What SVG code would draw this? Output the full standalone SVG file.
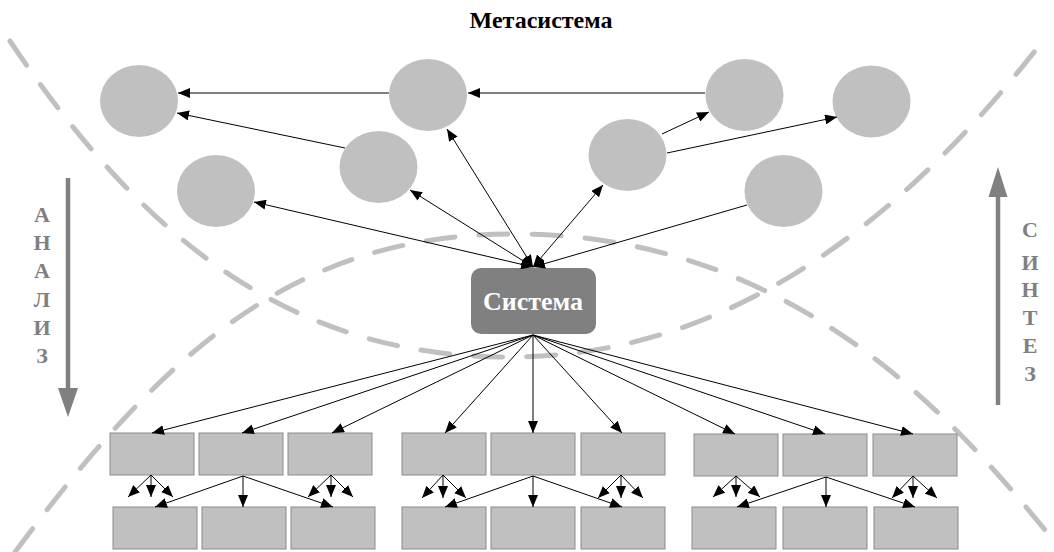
<svg xmlns="http://www.w3.org/2000/svg" width="1054" height="552" viewBox="0 0 1054 552">
  <defs>
    <marker id="ah" viewBox="0 0 12 10" markerWidth="12" markerHeight="10" markerUnits="userSpaceOnUse" refX="12" refY="5" orient="auto-start-reverse">
      <path d="M0,0 L12,5 L0,10 z" fill="#000"/>
    </marker>
    <style>
      .dash { fill: none; stroke: #c0c0c0; stroke-width: 5; stroke-dasharray: 29 24; stroke-linecap: round; }
      .ell { fill: #c0c0c0; }
      .box { fill: #c0c0c0; stroke: #8c8c8c; stroke-width: 1; }
      .ln { stroke: #000; stroke-width: 1; fill: none; }
      .one { marker-end: url(#ah); }
      .two { marker-start: url(#ah); marker-end: url(#ah); }
      .title { font-family: "Liberation Serif", "Times New Roman", serif; font-weight: bold; font-size: 24px; fill: #000; }
      .sys { font-family: "Liberation Serif", "Times New Roman", serif; font-weight: bold; font-size: 26px; fill: #fff; }
      .side { font-family: "Liberation Serif", "Times New Roman", serif; font-weight: bold; font-size: 22px; fill: #808080; text-anchor: middle; }
      .shaft { stroke: #808080; stroke-width: 4.5; }
    </style>
  </defs>

  <!-- dashed boundary curves -->
  <g id="boundaries">
    <path class="dash" d="M10,41 C150,250 300,357 510,357 C730,357 905,220 1045,38"/>
    <path class="dash" d="M15,552 C165,350 295,234 515,234 C815,234 980,452 1060,548"/>
  </g>

  <text class="title" x="541" y="28" text-anchor="middle">Метасистема</text>

  <!-- analysis arrow -->
  <g id="analysis">
    <line class="shaft" x1="68" y1="178" x2="68" y2="390"/>
    <path d="M58,388 L78,388 L68,417 z" fill="#808080"/>
    <text class="side" x="42" y="222">А</text>
    <text class="side" x="42" y="250">Н</text>
    <text class="side" x="42" y="278">А</text>
    <text class="side" x="42" y="307">Л</text>
    <text class="side" x="42" y="335">И</text>
    <text class="side" x="42" y="363">З</text>
  </g>

  <!-- synthesis arrow -->
  <g id="synthesis">
    <line class="shaft" x1="998" y1="405" x2="998" y2="195"/>
    <path d="M988.5,197 L1007.5,197 L998,167 z" fill="#808080"/>
    <text class="side" x="1030" y="237">С</text>
    <text class="side" x="1030" y="270">И</text>
    <text class="side" x="1030" y="297">Н</text>
    <text class="side" x="1030" y="325">Т</text>
    <text class="side" x="1030" y="353">Е</text>
    <text class="side" x="1030" y="381">З</text>
  </g>

  <!-- metasystem elements -->
  <g id="e1"><ellipse class="ell" cx="139" cy="101" rx="39" ry="36"/></g>
  <g id="e2"><ellipse class="ell" cx="428" cy="95" rx="39" ry="36"/></g>
  <g id="e3"><ellipse class="ell" cx="378.5" cy="167" rx="39" ry="36"/></g>
  <g id="e4"><ellipse class="ell" cx="216" cy="191" rx="39" ry="36"/></g>
  <g id="e5"><ellipse class="ell" cx="744.5" cy="95" rx="39" ry="36"/></g>
  <g id="e6"><ellipse class="ell" cx="871.5" cy="101.5" rx="39" ry="36"/></g>
  <g id="e7"><ellipse class="ell" cx="627.5" cy="155" rx="39" ry="36"/></g>
  <g id="e8"><ellipse class="ell" cx="783.5" cy="191" rx="39" ry="36"/></g>

  <!-- system -->
  <g id="system">
    <rect x="471" y="268" width="125" height="66" rx="10" ry="10" fill="#808080"/>
    <text class="sys" x="533" y="310" text-anchor="middle">Система</text>
  </g>

  <!-- subsystem blocks -->
  <g id="blocks">
    <g id="b11"><rect class="box" x="110" y="433" width="84" height="42"/></g>
    <g id="b12"><rect class="box" x="199" y="433" width="84" height="42"/></g>
    <g id="b13"><rect class="box" x="288" y="433" width="84" height="42"/></g>
    <g id="b14"><rect class="box" x="402" y="433" width="84" height="42"/></g>
    <g id="b15"><rect class="box" x="491" y="433" width="84" height="42"/></g>
    <g id="b16"><rect class="box" x="581" y="433" width="84" height="42"/></g>
    <g id="b17"><rect class="box" x="694" y="434" width="84" height="42"/></g>
    <g id="b18"><rect class="box" x="783" y="434" width="84" height="42"/></g>
    <g id="b19"><rect class="box" x="873" y="434" width="84" height="42"/></g>
    <g id="b21"><rect class="box" x="113" y="507" width="84" height="42"/></g>
    <g id="b22"><rect class="box" x="202" y="507" width="84" height="42"/></g>
    <g id="b23"><rect class="box" x="291" y="507" width="84" height="42"/></g>
    <g id="b24"><rect class="box" x="402" y="507" width="84" height="42"/></g>
    <g id="b25"><rect class="box" x="491" y="507" width="84" height="42"/></g>
    <g id="b26"><rect class="box" x="581" y="507" width="84" height="42"/></g>
    <g id="b27"><rect class="box" x="692" y="507" width="84" height="42"/></g>
    <g id="b28"><rect class="box" x="783" y="507" width="84" height="42"/></g>
    <g id="b29"><rect class="box" x="874" y="507" width="84" height="42"/></g>
  </g>

  <!-- connectors -->
  <g id="connectors">
    <!-- among metasystem elements -->
    <line class="ln one" x1="389" y1="93" x2="178" y2="93"/>
    <line class="ln one" x1="705" y1="93" x2="468" y2="93"/>
    <line class="ln one" x1="345" y1="148" x2="177" y2="113"/>
    <line class="ln one" x1="662" y1="134" x2="709" y2="112"/>
    <line class="ln one" x1="667" y1="153" x2="837" y2="117"/>
    <!-- system to metasystem -->
    <line class="ln two" x1="447" y1="129" x2="533" y2="267"/>
    <line class="ln two" x1="410" y1="190" x2="533" y2="267"/>
    <line class="ln two" x1="533" y1="267" x2="254" y2="202"/>
    <line class="ln two" x1="603" y1="185" x2="533" y2="267"/>
    <line class="ln one" x1="747" y1="205" x2="533" y2="267"/>
    <!-- system to subsystems -->
    <line class="ln one" x1="533" y1="335" x2="152" y2="433"/>
    <line class="ln one" x1="533" y1="335" x2="242" y2="433"/>
    <line class="ln one" x1="533" y1="335" x2="332" y2="433"/>
    <line class="ln one" x1="533" y1="335" x2="445" y2="433"/>
    <line class="ln one" x1="533" y1="335" x2="533" y2="433"/>
    <line class="ln one" x1="533" y1="335" x2="622" y2="433"/>
    <line class="ln one" x1="533" y1="335" x2="735" y2="434"/>
    <line class="ln one" x1="533" y1="335" x2="825" y2="434"/>
    <line class="ln one" x1="533" y1="335" x2="913" y2="434"/>
    <!-- group 1 -->
    <line class="ln one" x1="151" y1="475" x2="128" y2="497"/>
    <line class="ln one" x1="151" y1="475" x2="151" y2="497"/>
    <line class="ln one" x1="151" y1="475" x2="173" y2="497"/>
    <line class="ln one" x1="243" y1="476" x2="155" y2="507"/>
    <line class="ln one" x1="243" y1="476" x2="243" y2="507"/>
    <line class="ln one" x1="243" y1="476" x2="333" y2="507"/>
    <line class="ln one" x1="331" y1="475" x2="308" y2="497"/>
    <line class="ln one" x1="331" y1="475" x2="331" y2="497"/>
    <line class="ln one" x1="331" y1="475" x2="353" y2="497"/>
    <!-- group 2 -->
    <line class="ln one" x1="443" y1="475" x2="422" y2="498"/>
    <line class="ln one" x1="443" y1="475" x2="443" y2="498"/>
    <line class="ln one" x1="443" y1="475" x2="466" y2="498"/>
    <line class="ln one" x1="533" y1="476" x2="445" y2="507"/>
    <line class="ln one" x1="533" y1="476" x2="533" y2="507"/>
    <line class="ln one" x1="533" y1="476" x2="622" y2="507"/>
    <line class="ln one" x1="621" y1="475" x2="598" y2="498"/>
    <line class="ln one" x1="621" y1="475" x2="621" y2="498"/>
    <line class="ln one" x1="621" y1="475" x2="643" y2="498"/>
    <!-- group 3 -->
    <line class="ln one" x1="736" y1="476" x2="713" y2="497"/>
    <line class="ln one" x1="736" y1="476" x2="736" y2="497"/>
    <line class="ln one" x1="736" y1="476" x2="760" y2="497"/>
    <line class="ln one" x1="826" y1="477" x2="737" y2="507"/>
    <line class="ln one" x1="826" y1="477" x2="826" y2="507"/>
    <line class="ln one" x1="826" y1="477" x2="915" y2="507"/>
    <line class="ln one" x1="913" y1="476" x2="892" y2="498"/>
    <line class="ln one" x1="913" y1="476" x2="913" y2="498"/>
    <line class="ln one" x1="913" y1="476" x2="937" y2="498"/>
  </g>
</svg>
